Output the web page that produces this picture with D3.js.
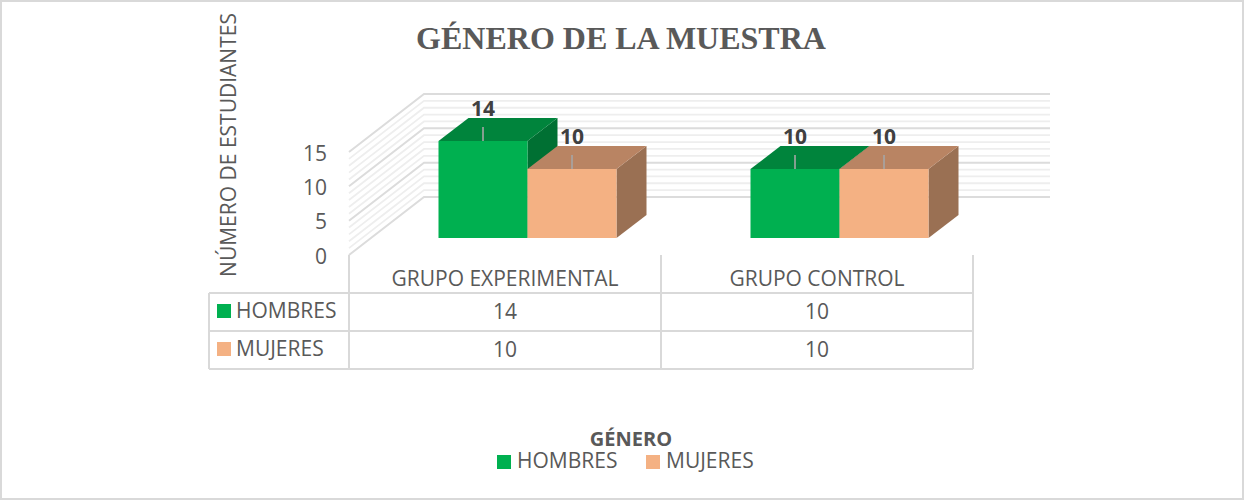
<!DOCTYPE html>
<html>
<head>
<meta charset="utf-8">
<script src="https://cdn.jsdelivr.net/npm/d3@7"></script>
<style>
  body { margin: 0; background: #fff; }
  text { font-family: "Open Sans", sans-serif; fill: #595959; }
</style>
</head>
<body>
<svg></svg>
<script>
var categories = ["GRUPO EXPERIMENTAL", "GRUPO CONTROL"];
var seriesNames = ["HOMBRES", "MUJERES"];
var hombres = [14, 10];
var mujeres = [10, 10];
var yTicks = [0, 5, 10, 15];
var minorTicks = d3.range(0, 16);

var width = 1244;
var height = 500;
var color = { HOMBRES: "#00b050", MUJERES: "#f4b183" };
var topColor = { HOMBRES: "#00843c", MUJERES: "#b98463" };
var sideColor = { HOMBRES: "#007033", MUJERES: "#9a7053" };
var gridColor = "#d9d9d9";

var svg = d3.select("svg").attr("width", width).attr("height", height)
  .style("display", "block");

svg.append("rect")
  .attr("x", 1).attr("y", 1)
  .attr("width", width - 2).attr("height", height - 2)
  .attr("fill", "#fff").attr("stroke", gridColor).attr("stroke-width", 2);

// front plane of the 3d box
var plotLeft = 349, plotRight = 973;
var wallDx = 75, wallDy = -58;    // front edge to back wall
var barDx = 30, barDy = -23;      // depth of one bar
var barShiftX = 22.5, barShiftY = -17.5; // bars stand in the middle of the floor

var y = d3.scaleLinear().domain([0, 15]).range([255, 152]);
var x0 = d3.scaleBand().domain(categories).range([plotLeft, plotRight]);
var x1 = d3.scaleBand().domain(seriesNames).range([0, 178]);

// walls
var walls = svg.append("g").attr("fill", "none");
minorTicks.forEach(function(t) {
  var major = t % 5 == 0;
  walls.append("polyline")
    .attr("points", [
      [plotLeft, y(t)],
      [plotLeft + wallDx, y(t) + wallDy],
      [plotRight + wallDx + 2, y(t) + wallDy]
    ].join(" "))
    .attr("stroke", major ? "#dcdcdc" : "#eeeeee")
    .attr("stroke-width", major ? 2 : 1.8);
});

// y labels
svg.append("g").selectAll("text")
  .data(yTicks).enter().append("text")
  .attr("x", 327)
  .attr("y", function(d) { return y(d) + 8.5; })
  .attr("text-anchor", "end")
  .attr("font-size", 21)
  .text(function(d) { return d; });

svg.append("text")
  .attr("transform", "translate(236,145) rotate(-90)")
  .attr("text-anchor", "middle")
  .attr("font-size", 21)
  .text("NÚMERO DE ESTUDIANTES");

// bars
var rows = categories.map(function(c, i) {
  return [
    { cat: c, name: seriesNames[0], value: hombres[i] },
    { cat: c, name: seriesNames[1], value: mujeres[i] }
  ];
});
var flat = d3.merge(rows);
var barOffset = function(d) {
  return x0(d.cat) + (x0.bandwidth() - 178) / 2 + barShiftX + x1(d.name);
};
// whole pixels so the faces of neighbouring bars meet without a seam
var barY = function(v) { return Math.round(y(v) + barShiftY); };
var bars = svg.append("g");

flat.forEach(function(d) {
  var l = barOffset(d), r = l + x1.bandwidth();
  var t = barY(d.value), b = barY(0);
  var g = bars.append("g");
  g.append("polygon")
    .attr("points", [[r, t], [r + barDx, t + barDy], [r + barDx, b + barDy], [r, b]].join(" "))
    .attr("fill", sideColor[d.name]);
  g.append("polygon")
    .attr("points", [[l, t], [l + barDx, t + barDy], [r + barDx, t + barDy], [r, t]].join(" "))
    .attr("fill", topColor[d.name]);
  g.append("rect")
    .attr("x", l).attr("y", t)
    .attr("width", x1.bandwidth()).attr("height", b - t)
    .attr("fill", color[d.name]);
  g.append("line")
    .attr("x1", l + x1.bandwidth() / 2).attr("x2", l + x1.bandwidth() / 2)
    .attr("y1", t - 14).attr("y2", t)
    .attr("stroke", "#a6a6a6").attr("stroke-width", 1.6);
  g.append("text")
    .attr("x", l + x1.bandwidth() / 2)
    .attr("y", t - 25)
    .attr("text-anchor", "middle")
    .attr("font-size", 21)
    .attr("font-weight", 700)
    .style("fill", "#404040")
    .text(d.value);
});

// data table
var tableLeft = 209, rowTop = 293, rowH = 38;
var table = svg.append("g").attr("stroke", gridColor).attr("stroke-width", 2);
[0, 1, 2].forEach(function(i) {
  table.append("line")
    .attr("x1", tableLeft).attr("x2", plotRight)
    .attr("y1", rowTop + i * rowH).attr("y2", rowTop + i * rowH);
});
table.append("line").attr("x1", tableLeft).attr("x2", tableLeft)
  .attr("y1", rowTop).attr("y2", rowTop + 2 * rowH);
[plotLeft, x0(categories[1]), plotRight].forEach(function(px) {
  table.append("line").attr("x1", px).attr("x2", px)
    .attr("y1", y(0)).attr("y2", rowTop + 2 * rowH);
});

categories.forEach(function(c) {
  svg.append("text")
    .attr("x", x0(c) + x0.bandwidth() / 2)
    .attr("y", 286)
    .attr("text-anchor", "middle")
    .attr("font-size", 21)
    .text(c);
});

[hombres, mujeres].forEach(function(vals, i) {
  svg.append("rect")
    .attr("x", 217).attr("y", rowTop + i * rowH + 11)
    .attr("width", 14).attr("height", 14)
    .attr("fill", color[seriesNames[i]]);
  svg.append("text")
    .attr("x", 236).attr("y", rowTop + i * rowH + 25)
    .attr("font-size", 21)
    .text(seriesNames[i]);
  vals.forEach(function(v, j) {
    svg.append("text")
      .attr("x", x0(categories[j]) + x0.bandwidth() / 2)
      .attr("y", rowTop + i * rowH + 26)
      .attr("text-anchor", "middle")
      .attr("font-size", 21)
      .text(v);
  });
});

// title
svg.append("text")
  .attr("x", 621).attr("y", 49)
  .attr("text-anchor", "middle")
  .attr("font-size", 32)
  .attr("font-weight", 700)
  .style("font-family", "'Liberation Serif', serif")
  .text("GÉNERO DE LA MUESTRA");

// legend
svg.append("text")
  .attr("x", 631).attr("y", 446)
  .attr("text-anchor", "middle")
  .attr("font-size", 20)
  .attr("font-weight", 700)
  .text("GÉNERO");

var legendX = [497, 646];
seriesNames.forEach(function(n, i) {
  svg.append("rect")
    .attr("x", legendX[i]).attr("y", 455)
    .attr("width", 14).attr("height", 14)
    .attr("fill", color[n]);
  svg.append("text")
    .attr("x", legendX[i] + 20).attr("y", 468)
    .attr("font-size", 21)
    .text(n);
});
</script>
</body>
</html>
